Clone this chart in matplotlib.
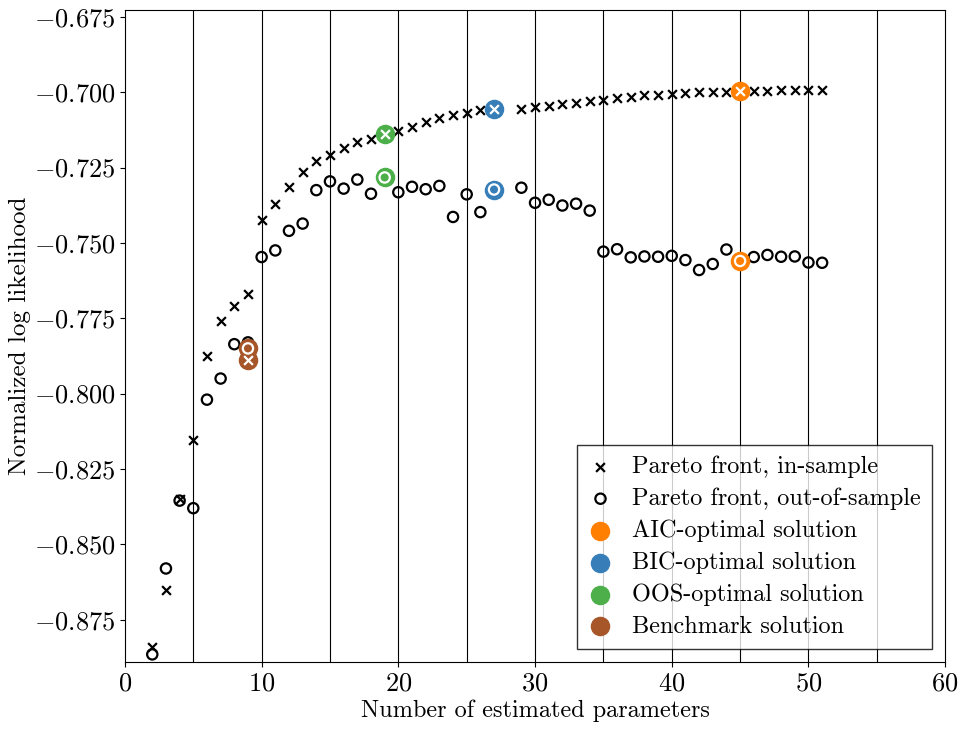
import numpy as np
import matplotlib
matplotlib.use("Agg")
import matplotlib.pyplot as plt
from matplotlib.ticker import MultipleLocator

plt.rcParams["font.family"] = "serif"
plt.rcParams["font.serif"] = ["cmr10"]
plt.rcParams["mathtext.fontset"] = "cm"
plt.rcParams["axes.formatter.use_mathtext"] = True
plt.rcParams["font.size"] = 19

# number of estimated parameters on the Pareto front (no model with 28)
n_params = [2, 3, 4, 5, 6, 7, 8, 9, 10, 11, 12, 13, 14, 15, 16, 17, 18, 19, 20,
            21, 22, 23, 24, 25, 26, 27, 29, 30, 31, 32, 33, 34, 35, 36, 37, 38,
            39, 40, 41, 42, 43, 44, 45, 46, 47, 48, 49, 50, 51]

# normalized log likelihood, in-sample
ll_in = [-0.884, -0.865, -0.835, -0.8155, -0.7875, -0.776, -0.771, -0.767,
         -0.7425, -0.737, -0.7315, -0.7265, -0.723, -0.721, -0.7185, -0.7165,
         -0.7155, -0.714, -0.713, -0.7115, -0.710, -0.7085, -0.7075, -0.707,
         -0.706, -0.7055, -0.7055, -0.705, -0.7045, -0.704, -0.7035, -0.703,
         -0.7025, -0.702, -0.7015, -0.701, -0.7008, -0.7005, -0.7002, -0.7,
         -0.6999, -0.6998, -0.6996, -0.6996, -0.6995, -0.6994, -0.6994,
         -0.6993, -0.6992]

# normalized log likelihood, out-of-sample
ll_out = [-0.8865, -0.858, -0.8355, -0.838, -0.802, -0.795, -0.7836, -0.783,
          -0.7547, -0.7525, -0.746, -0.7436, -0.7325, -0.7296, -0.732, -0.729,
          -0.7337, -0.7283, -0.7332, -0.7314, -0.7322, -0.7311, -0.7414,
          -0.7339, -0.7398, -0.7323, -0.7317, -0.7367, -0.7357, -0.7376,
          -0.737, -0.7393, -0.7529, -0.7521, -0.7548, -0.7545, -0.7546,
          -0.7543, -0.7557, -0.759, -0.757, -0.7522, -0.756, -0.7547, -0.754,
          -0.7546, -0.7545, -0.7565, -0.7566]

# selected solutions (number of parameters)
aic_n = 45
bic_n = 27
oos_n = 19

# benchmark model (not on the front)
bench_n = 9
bench_in = -0.789
bench_out = -0.785

c_aic = "#ff7f00"
c_bic = "#377eb8"
c_oos = "#4daf4a"
c_bench = "#a65628"

fig = plt.figure(figsize=(9.61, 7.29), dpi=100)
ax = fig.add_axes([0.130, 0.092, 0.8535, 0.8945])

for xv in range(5, 60, 5):
    ax.axvline(xv, color="black", lw=0.8, zorder=0)

ax.scatter(n_params, ll_in, marker="x", color="black", s=40, lw=1.6,
           zorder=3, label="Pareto front, in-sample")
ax.scatter(n_params, ll_out, marker="o", facecolor="none", edgecolor="black",
           s=55, lw=1.6, zorder=3, label="Pareto front, out-of-sample")


def highlight(n, y_in, y_out, color, label):
    ax.scatter([n, n], [y_in, y_out], marker="o", color=color, s=170,
               zorder=4, label=label)
    ax.scatter([n], [y_in], marker="x", color="white", s=40, lw=1.6, zorder=5)
    ax.scatter([n], [y_out], marker="o", facecolor="none", edgecolor="white",
               s=55, lw=1.6, zorder=5)


for n, col, lab in [(aic_n, c_aic, "AIC-optimal solution"),
                    (bic_n, c_bic, "BIC-optimal solution"),
                    (oos_n, c_oos, "OOS-optimal solution")]:
    i = n_params.index(n)
    highlight(n, ll_in[i], ll_out[i], col, lab)

highlight(bench_n, bench_in, bench_out, c_bench, "Benchmark solution")

ax.set_xlim(0, 60)
ax.set_ylim(-0.889, -0.6727)
ax.xaxis.set_major_locator(MultipleLocator(10))
ax.yaxis.set_major_locator(MultipleLocator(0.025))
ax.yaxis.set_major_formatter(matplotlib.ticker.FormatStrFormatter("$%.3f$"))
ax.set_xlabel("Number of estimated parameters", fontsize=17.5, labelpad=3)
ax.set_ylabel("Normalized log likelihood", fontsize=18, labelpad=2)

leg = ax.legend(loc="lower right", fancybox=False, edgecolor="black",
                framealpha=0.8, fontsize=17.5, handlelength=1.0,
                handletextpad=0.8, borderpad=0.45, labelspacing=0.39,
                borderaxespad=0.55)

fig.savefig("out.png", dpi=100)
